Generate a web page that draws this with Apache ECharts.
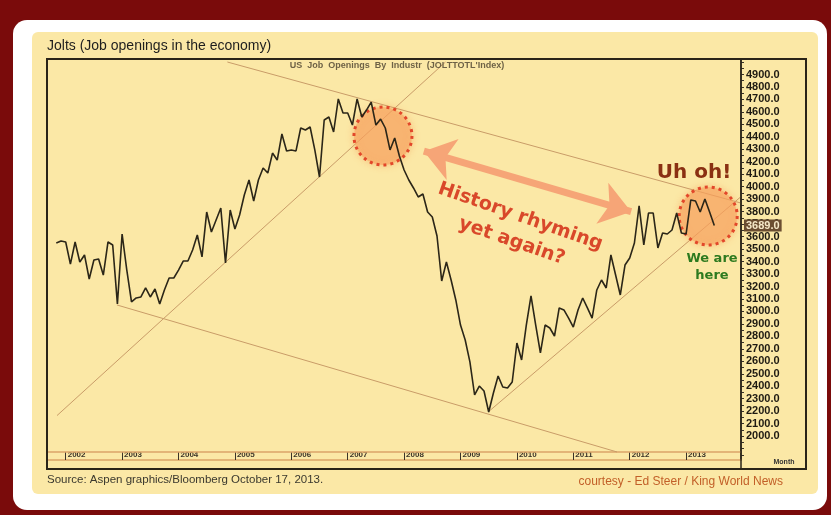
<!DOCTYPE html>
<html><head><meta charset="utf-8">
<script src="https://cdn.jsdelivr.net/npm/echarts@6/dist/echarts.min.js"></script>
<style>html,body{margin:0;padding:0;background:#7a0b0b}#c{width:831px;height:515px}</style>
</head><body><div id="c"></div>
<script>
// ---- data ----
const startYear = 2001, startMonth = 11;
const values = [
 3549,3565,3557,3380,3557,3396,3453,3260,3412,3420,
 3292,3557,3533,3060,3621,3332,3076,3108,3116,3188,
 3116,3180,3060,3172,3268,3268,3332,3404,3404,3493,
 3613,3437,3797,3637,3733,3829,3388,3813,3661,3773,
 3934,4054,3886,4054,4150,4110,4270,4214,4423,4287,
 4295,4287,4471,4455,4479,4295,4078,4535,4559,4439,
 4704,4591,4591,4495,4704,4559,4615,4679,4495,4543,
 4471,4295,4391,4246,4134,4054,3990,3918,3942,3797,
 3757,3605,3244,3396,3252,3092,2891,2771,2595,2330,
 2402,2362,2194,2346,2482,2394,2386,2434,2747,2611,
 2891,3124,2891,2667,2891,2867,2803,3028,3012,2947,
 2875,3012,3108,3028,2947,3172,3252,3188,3453,3292,
 3132,3372,3429,3549,3846,3533,3789,3789,3509,3629,
 3621,3653,3789,3629,3621,3894,3886,3797,3902,3797,
 3689
];
const months = values.map((v, i) => {
  const m = startMonth - 1 + i;
  const y = startYear + Math.floor(m / 12);
  const mm = (m % 12) + 1;
  return y + '-' + (mm < 10 ? '0' + mm : '' + mm);
});
const yearLabels = ['2002','2003','2004','2005','2006','2007','2008','2009','2010','2011','2012','2013'];
const yLabelValues = [2000,2100,2200,2300,2400,2500,2600,2700,2800,2900,3000,3100,3200,3300,3400,3500,3600,3700,3800,3900,4000,4100,4200,4300,4400,4500,4600,4700,4800,4900];
const yTickValues = [1850,1900,1950,2000,2050,2100,2150,2200,2250,2300,2350,2400,2450,2500,2550,2600,2650,2700,2750,2800,2850,2900,2950,3000,3050,3100,3150,3200,3250,3300,3350,3400,3450,3500,3550,3600,3650,3700,3750,3800,3850,3900,3950,4000,4050,4100,4150,4200,4250,4300,4350,4400,4450,4500,4550,4600,4650,4700,4750,4800,4850,4900,4950,5000];
// trend channel lines [month index, value] endpoints
const trendLines = [
  [[0.15, 2165], [82.8, 5000]],
  [[12.9, 3052], [119.3, 1873]],
  [[36.4, 5000], [145.6, 3870]],
  [[91.9, 2194], [145.6, 3918]]
];
const circles = [[69.5, 4407], [138.7, 3765]];
const arrowEnds = [[78.2, 4285], [122.3, 3800]];
const lastValue = values[values.length - 1];

// ---- chart ----
const chart = echarts.init(document.getElementById('c'), null, {renderer: 'canvas'});
const F = '"Liberation Sans", Arial, Helvetica, sans-serif';
const janIdx = yearLabels.map(y => months.indexOf(y + '-01'));

const option = {
  backgroundColor: '#7a0b0b',
  animation: false,
  graphic: [
    {type: 'rect', z: -10, shape: {x: 13, y: 20, width: 814, height: 490, r: 14}, style: {fill: '#ffffff'}},
    {type: 'rect', z: -9, shape: {x: 32, y: 32, width: 786, height: 462, r: 6}, style: {fill: '#fbe8a6'}},
    {type: 'line', z: 3, shape: {x1: 47, y1: 452, x2: 741, y2: 452}, style: {stroke: '#dba468', lineWidth: 1.5}},
    {type: 'rect', z: 30, shape: {x: 47, y: 59, width: 759, height: 410}, style: {fill: 'none', stroke: '#2a2418', lineWidth: 2}},
    {type: 'line', z: 30, shape: {x1: 741, y1: 59, x2: 741, y2: 469}, style: {stroke: '#2a2418', lineWidth: 1.5}},
    {type: 'text', z: 30, style: {text: 'Jolts (Job openings in the economy)', x: 47, y: 46, font: '14px ' + F, fill: '#1e1e1e', textVerticalAlign: 'middle'}},
    {type: 'text', z: 30, style: {text: 'US  Job  Openings  By  Industr  (JOLTTOTL\'Index)', x: 397, y: 66, font: 'bold 9px ' + F, fill: '#6e6246', textAlign: 'center', textVerticalAlign: 'middle'}},
    {type: 'text', z: 30, style: {text: 'Month', x: 784, y: 462, font: 'bold 7px ' + F, fill: '#333333', textAlign: 'center', textVerticalAlign: 'middle'}},
    {type: 'text', z: 30, style: {text: 'Source: Aspen graphics/Bloomberg October 17, 2013.', x: 47, y: 480, font: '11.5px ' + F, fill: '#3a382e', textVerticalAlign: 'middle'}},
    {type: 'text', z: 30, style: {text: 'courtesy - Ed Steer / King World News', x: 783, y: 482, font: '12px ' + F, fill: '#c25f28', textAlign: 'right', textVerticalAlign: 'middle'}},
    {type: 'text', z: 40, x: 516, y: 229, rotation: -0.335, style: {text: 'History rhyming\nyet again?', x: 0, y: 0, font: 'bold 19px "DejaVu Sans", sans-serif', fill: '#d9482a', textAlign: 'center', textVerticalAlign: 'middle', lineHeight: 26}},
    {type: 'text', z: 40, style: {text: 'Uh oh!', x: 694, y: 173, font: 'bold 20px "DejaVu Sans", sans-serif', fill: '#8a3012', textAlign: 'center', textVerticalAlign: 'middle'}},
    {type: 'text', z: 40, style: {text: 'We are\nhere', x: 712, y: 267, font: 'bold 13px "DejaVu Sans", sans-serif', fill: '#2d7a1f', textAlign: 'center', textVerticalAlign: 'middle', lineHeight: 17}}
  ],
  grid: {left: 47, right: 90, top: 59, bottom: 55, show: false},
  xAxis: {
    type: 'value', min: -1.98, max: 145.68,
    axisLine: {show: true, onZero: false, lineStyle: {color: '#dba468', width: 1.5}},
    axisTick: {show: true, customValues: janIdx, inside: true, length: 8, lineStyle: {color: '#3a3328', width: 1}},
    axisLabel: {show: true, customValues: janIdx, inside: true, margin: 1, align: 'left', padding: [0, 0, 0, 2],
      formatter: v => months[Math.round(v)].slice(0, 4), fontSize: 8, fontWeight: 'bold', color: '#3a3328', fontFamily: F},
    splitLine: {show: false}
  },
  yAxis: {
    type: 'value', position: 'right', min: 1808.7, max: 5024.3,
    axisLine: {show: true, onZero: false, lineStyle: {color: '#2a2418', width: 1.5}},
    axisTick: {show: true, customValues: yTickValues, length: 3, lineStyle: {color: '#3a3328'}},
    axisLabel: {show: true, customValues: yLabelValues, margin: 5, formatter: v => v.toFixed(1),
      fontSize: 11, fontWeight: 'bold', color: '#1e1a12', fontFamily: F},
    splitLine: {show: false}
  },
  series: [{
    type: 'line',
    data: values.map((v, i) => [i, v]),
    showSymbol: false,
    lineStyle: {color: '#2b2618', width: 1.6},
    z: 5,
    markLine: {
      silent: true, symbol: ['none', 'none'], animation: false,
      label: {show: false},
      lineStyle: {color: '#c99c68', width: 1, type: 'solid'},
      data: trendLines.map(l => [{coord: l[0]}, {coord: l[1]}]).concat([
        [{coord: arrowEnds[0], symbol: 'arrow', symbolSize: [32, 30], lineStyle: {color: '#f6a577', width: 7, opacity: 1}},
         {coord: arrowEnds[1], symbol: 'arrow', symbolSize: [32, 30]}]
      ])
    },
    markPoint: {
      silent: true, symbol: 'circle', symbolSize: 58, animation: false,
      label: {show: false},
      itemStyle: {color: 'rgba(247,160,92,0.55)', borderColor: '#e2472a', borderWidth: 3, borderType: [3, 4],
        shadowBlur: 6, shadowColor: 'rgba(247,160,92,0.7)'},
      data: circles.map(c => ({coord: c}))
    }
  }, {
    type: 'line',
    data: [],
    silent: true,
    markLine: {
      silent: true, symbol: ['none', 'none'], animation: false,
      lineStyle: {color: 'rgba(0,0,0,0)', width: 1},
      label: {show: true, position: 'end', distance: 3, formatter: lastValue.toFixed(1),
        backgroundColor: '#6b4e31', color: '#f5e8c8', fontWeight: 'bold', fontSize: 11, fontFamily: F, padding: [1, 2, 0, 2]},
      data: [{yAxis: lastValue}]
    }
  }]
};
chart.setOption(option);
</script></body></html>
